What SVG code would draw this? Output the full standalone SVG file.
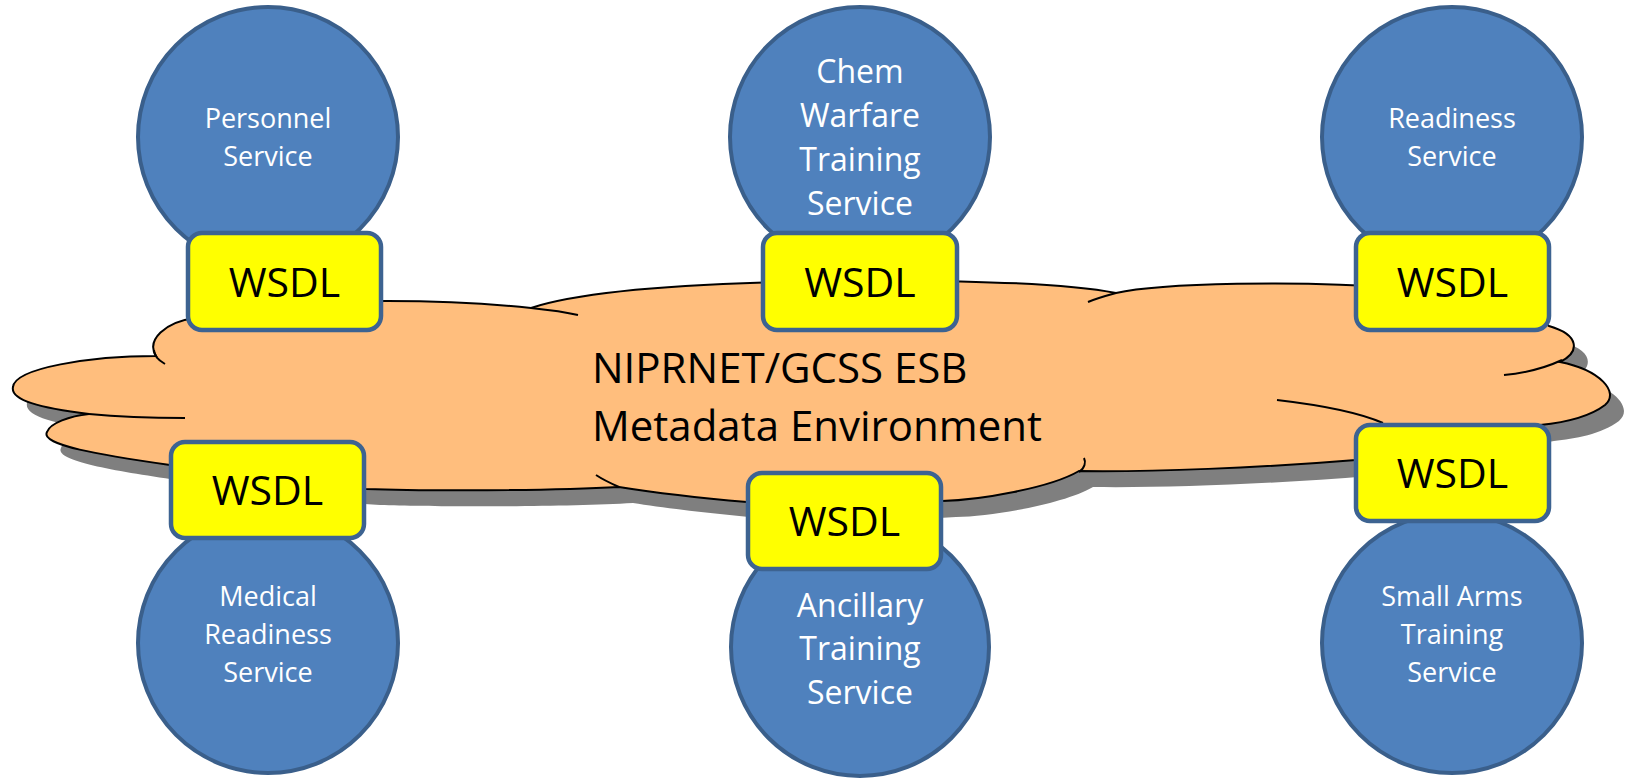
<svg xmlns="http://www.w3.org/2000/svg" width="1629" height="779" viewBox="0 0 1629 779">
<style>
.svc{fill:#4f81bd;stroke:#3a5f8b;stroke-width:4}
.svct{fill:#ffffff;font-family:"Open Sans","Liberation Sans",sans-serif;text-anchor:middle}
.box{fill:#ffff00;stroke:#3d6391;stroke-width:4.5}
.boxt{fill:#000000;font-family:"Open Sans","Liberation Sans",sans-serif;font-size:41px;text-anchor:middle}
.tail{fill:none;stroke:#000000;stroke-width:2}
.main{fill:#000000;font-family:"Open Sans","Liberation Sans",sans-serif;font-size:42px}
</style>
<defs>
<path id="cloudShape" d="M13,387 C15,368 90,356 156,356 C146,340 165,322 195,318 C230,300 420,296 531,308 C580,292 680,282 860,281 C1000,280 1080,286 1116,293 C1160,283 1300,280 1400,288 C1470,295 1530,310 1549,326 C1580,335 1580,352 1560,362 C1600,370 1620,392 1605,405 C1588,418 1560,423 1540,425 C1450,440 1400,455 1356,460 C1260,468 1150,472 1079,471 C1050,488 980,500 942,501 C880,505 800,505 747,502 C700,498 650,492 619,487 C550,491 420,491 366,489 C300,485 220,475 170,465 C100,455 40,445 47,432 C50,423 70,416 89,414 C40,408 10,400 13,387 Z"/>
</defs>
<g id="cloud">
<use href="#cloudShape" transform="translate(14,16)" fill="#7f7f7f"/>
<use href="#cloudShape" fill="#ffbe7d" stroke="#000000" stroke-width="2"/>
<path class="tail" d="M154,350 C154,356 158,360 165,364"/>
<path class="tail" d="M531,308 C550,310 565,312 578,315"/>
<path class="tail" d="M1116,293 C1105,296 1095,299 1088,302"/>
<path class="tail" d="M1562,360 C1545,368 1525,373 1504,375"/>
<path class="tail" d="M1277,400 C1320,405 1360,413 1383,423"/>
<path class="tail" d="M1079,472 C1085,468 1086,462 1084,458"/>
<path class="tail" d="M619,487 C610,483 602,479 596,475"/>
<path class="tail" d="M89,414 C120,417 160,418 185,418"/>
<text class="main" x="592" y="383">NIPRNET/GCSS ESB</text>
<text class="main" x="592" y="441">Metadata Environment</text>
</g>
<g id="connectors"></g>
<g id="personnel">
<circle class="svc" cx="268" cy="137" r="130"/>
<text class="svct" font-size="27"><tspan x="268" y="128">Personnel</tspan><tspan x="268" y="166">Service</tspan></text>
<rect class="box" x="188" y="233" width="193" height="97" rx="14"/>
<text class="boxt" x="284.5" y="297">WSDL</text>
</g>
<g id="chem">
<circle class="svc" cx="860" cy="137" r="130"/>
<text class="svct" font-size="32"><tspan x="860" y="83">Chem</tspan><tspan x="860" y="127">Warfare</tspan><tspan x="860" y="171">Training</tspan><tspan x="860" y="215">Service</tspan></text>
<rect class="box" x="763" y="233" width="194" height="97" rx="14"/>
<text class="boxt" x="860" y="297">WSDL</text>
</g>
<g id="readiness">
<circle class="svc" cx="1452" cy="137" r="130"/>
<text class="svct" font-size="27"><tspan x="1452" y="128">Readiness</tspan><tspan x="1452" y="166">Service</tspan></text>
<rect class="box" x="1356" y="233" width="193" height="97" rx="14"/>
<text class="boxt" x="1452.5" y="297">WSDL</text>
</g>
<g id="medical">
<circle class="svc" cx="268" cy="643" r="130"/>
<text class="svct" font-size="27"><tspan x="268" y="606">Medical</tspan><tspan x="268" y="644">Readiness</tspan><tspan x="268" y="682">Service</tspan></text>
<rect class="box" x="171" y="442" width="193" height="96" rx="14"/>
<text class="boxt" x="267.5" y="505">WSDL</text>
</g>
<g id="ancillary">
<circle class="svc" cx="860" cy="647" r="129"/>
<text class="svct" font-size="32"><tspan x="860" y="617">Ancillary</tspan><tspan x="860" y="660">Training</tspan><tspan x="860" y="704">Service</tspan></text>
<rect class="box" x="748" y="473" width="193" height="96" rx="14"/>
<text class="boxt" x="844.5" y="536">WSDL</text>
</g>
<g id="smallarms">
<circle class="svc" cx="1452" cy="643" r="130"/>
<text class="svct" font-size="27"><tspan x="1452" y="606">Small Arms</tspan><tspan x="1452" y="644">Training</tspan><tspan x="1452" y="682">Service</tspan></text>
<rect class="box" x="1356" y="425" width="193" height="96" rx="14"/>
<text class="boxt" x="1452.5" y="488">WSDL</text>
</g>
</svg>
